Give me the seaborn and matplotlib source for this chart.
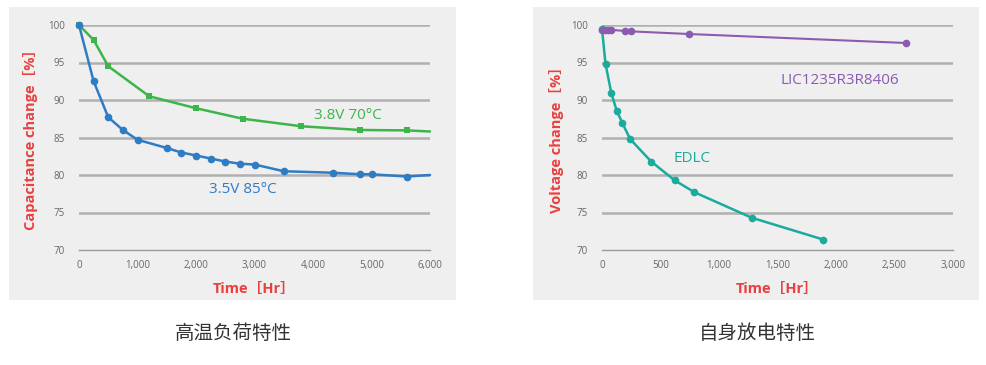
import matplotlib
matplotlib.use("Agg")
import matplotlib.pyplot as plt
from matplotlib.ticker import FuncFormatter
import seaborn as sns

# high-temperature load test (left)
t_38v = [0, 250, 500, 1200, 2000, 2800, 3800, 4800, 5600, 6000]
cap_38v = [100, 98.0, 94.5, 90.5, 88.9, 87.5, 86.5, 86.0, 85.95, 85.8]
t_35v = [0, 250, 500, 750, 1000, 1500, 1750, 2000, 2250, 2500, 2750, 3000,
         3500, 4350, 4800, 5000, 5600, 6000]
cap_35v = [100, 92.5, 87.7, 86.0, 84.7, 83.6, 83.0, 82.6, 82.2, 81.8, 81.5,
           81.4, 80.5, 80.3, 80.1, 80.1, 79.8, 80.0]

# self-discharge (right)
t_lic = [0, 25, 50, 80, 200, 250, 740, 2600]
volt_lic = [99.4, 99.4, 99.4, 99.35, 99.2, 99.15, 98.8, 97.6]
t_edlc = [0, 30, 80, 125, 175, 240, 420, 620, 790, 1280, 1890]
volt_edlc = [99.5, 94.8, 90.9, 88.6, 86.9, 84.8, 81.8, 79.3, 77.7, 74.3, 71.4]

y_ticks = [70, 75, 80, 85, 90, 95, 100]

sns.set_style("white")
plt.rcParams["font.family"] = ["Open Sans", "Noto Sans CJK SC", "DejaVu Sans"]

W, H = 987, 365
fig = plt.figure(figsize=(W / 100, H / 100), dpi=100)

RED = "#e8403f"
GRID = "#b0b0b0"
TICK = "#666666"


def px_box(x0, y0, x1, y1):
    return [x0 / W, 1 - y1 / H, (x1 - x0) / W, (y1 - y0) / H]


def panel(bg, ax_box, xmax, xstep, ylabel, ylabel_x):
    bg_ax = fig.add_axes(px_box(*bg), zorder=-5)
    bg_ax.set_facecolor("#efefef")
    bg_ax.set_xticks([])
    bg_ax.set_yticks([])
    for s in bg_ax.spines.values():
        s.set_visible(False)
    ax = fig.add_axes(px_box(*ax_box), zorder=1)
    ax.set_facecolor("none")
    ax.set_xlim(0, xmax)
    ax.set_ylim(70, 100)
    for v in y_ticks[1:]:
        ax.axhline(v, color=GRID, lw=1.8, zorder=0)
    for s in ["top", "right", "left"]:
        ax.spines[s].set_visible(False)
    ax.spines["bottom"].set_color("#999999")
    ax.spines["bottom"].set_linewidth(1.0)
    ax.set_yticks(y_ticks)
    ax.set_xticks(range(0, xmax + 1, xstep))
    ax.xaxis.set_major_formatter(FuncFormatter(lambda v, p: f"{int(v):,}"))
    ax.tick_params(axis="x", direction="in", length=5, width=1, color="#999999",
                   labelsize=7, labelcolor=TICK, pad=7)
    ax.tick_params(axis="y", length=0, labelsize=7, labelcolor=TICK, pad=10)
    fig.text(ylabel_x / W, 1 - 136 / H, ylabel, rotation=90, color=RED,
             fontsize=10.5, fontweight="bold", ha="center", va="center")
    cx = (ax_box[0] + ax_box[2]) / 2
    fig.text(cx / W, 1 - 289 / H, "Time［Hr］", color=RED, fontsize=10.5,
             fontweight="bold", ha="center", va="center")
    return ax


ax1 = panel((9, 7, 456, 300), (79, 25, 430, 250), 6000, 1000,
            "Capacitance change［%］", 31)
sns.lineplot(x=t_38v, y=cap_38v, ax=ax1, color="#3cb54a", lw=1.8, marker="s",
             markersize=5, markeredgewidth=0, markevery=list(range(len(t_38v) - 1)),
             clip_on=False, sort=False)
sns.lineplot(x=t_35v, y=cap_35v, ax=ax1, color="#2f7bc4", lw=1.8, marker="o",
             markersize=5.5, markeredgewidth=0, markevery=list(range(len(t_35v) - 1)),
             clip_on=False, sort=False)
ax1.text(4600, 87.9, "3.8V 70°C", color="#3cb54a", fontsize=11, ha="center", va="center")
ax1.text(2800, 78.1, "3.5V 85°C", color="#2f7bc4", fontsize=11, ha="center", va="center")
ax1.set_xlabel("")
ax1.set_ylabel("")

ax2 = panel((533, 7, 979, 300), (602, 25, 953, 250), 3000, 500,
            "Voltage change［%］", 557)
sns.lineplot(x=t_edlc, y=volt_edlc, ax=ax2, color="#1aab9c", lw=1.8, marker="o",
             markersize=5.5, markeredgewidth=0, clip_on=False, sort=False)
sns.lineplot(x=t_lic, y=volt_lic, ax=ax2, color="#8a5bb0", lw=1.5, marker="o",
             markersize=5.5, markeredgewidth=0, clip_on=False, sort=False)
ax2.text(2030, 92.6, "LIC1235R3R8406", color="#8a5bb0", fontsize=11,
         ha="center", va="center")
ax2.text(770, 82.2, "EDLC", color="#1aab9c", fontsize=11, ha="center", va="center")
ax2.set_xlabel("")
ax2.set_ylabel("")

fig.text(233 / W, 1 - 333 / H, "高温负荷特性", fontsize=14, color="#333333",
         ha="center", va="center", family=["Noto Sans CJK SC", "DejaVu Sans"])
fig.text(757 / W, 1 - 333 / H, "自身放电特性", fontsize=14, color="#333333",
         ha="center", va="center", family=["Noto Sans CJK SC", "DejaVu Sans"])

fig.savefig("out.png", dpi=100, facecolor="white")
